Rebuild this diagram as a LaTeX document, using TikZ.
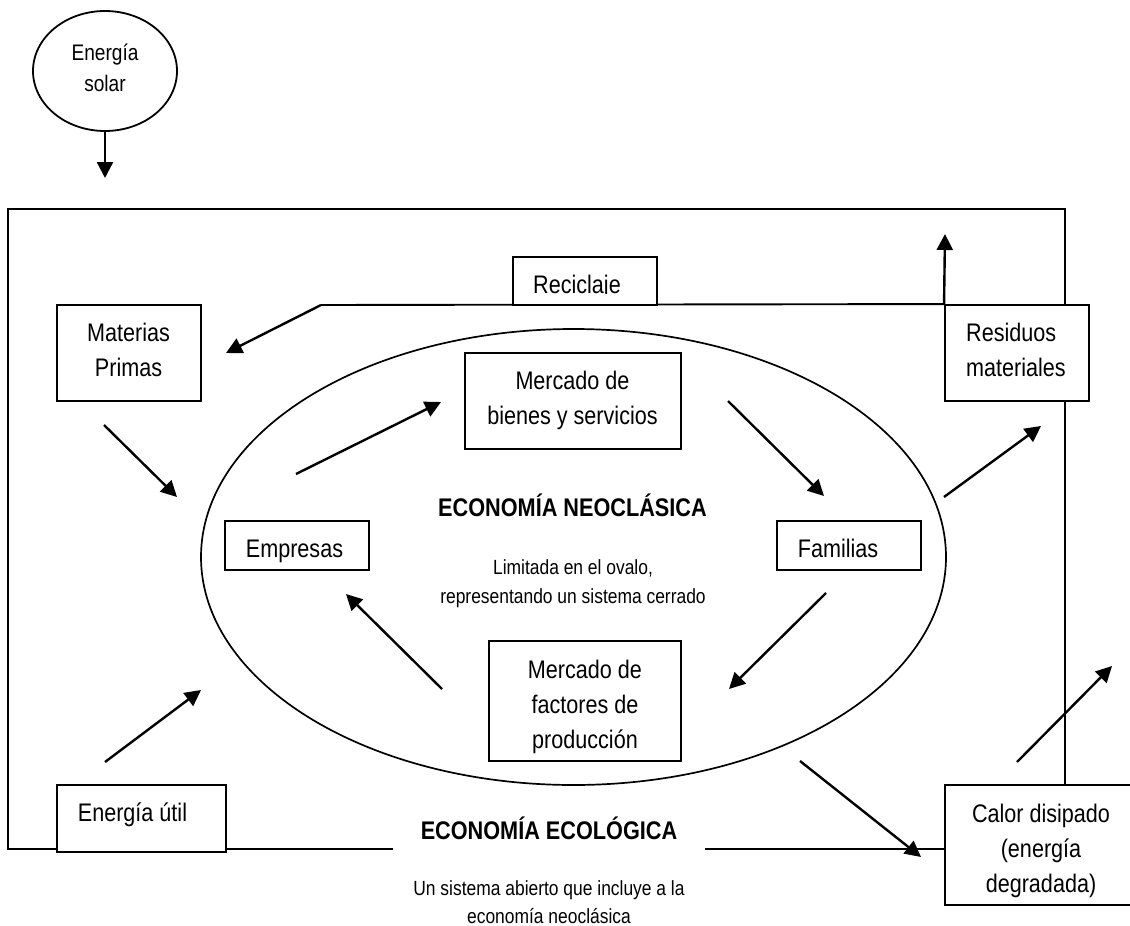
\documentclass[tikz,border=0pt]{standalone}
\usepackage{fontspec}
\setmainfont{Liberation Sans}[FakeStretch=0.85]
\usetikzlibrary{arrows.meta,shapes.geometric}
\begin{document}
\begin{tikzpicture}[x=1pt,y=-1pt,
  box/.style={draw, line width=1.9pt, fill=white, inner sep=0pt},
  txt/.style={inner sep=0pt, align=center, font=\fontsize{25.4}{35}\selectfont},
  one/.style={text height=18.2pt, text depth=0pt},
  small/.style={inner sep=0pt, align=center, font=\fontsize{20.5}{28.5}\selectfont},
  big/.style={inner sep=0pt, align=center, text height=18.3pt, text depth=0pt, font=\fontsize{25.5}{35}\selectfont\bfseries},
  arr/.style={line width=2.4pt, -{Triangle[length=16pt,width=16pt]}},
  frame/.style={line width=1.9pt}]
\useasboundingbox (0,0) rectangle (1130,926);

% coordinates of the outer frame and free connector ends
\coordinate (tl) at (8,209);
\coordinate (tr) at (1065,209);
\coordinate (bl) at (8,849);
\coordinate (gl) at (393,849);
\coordinate (gr) at (705,849);
\coordinate (rc1) at (321,305);
\coordinate (rc2) at (226,353);
\coordinate (solend) at (105,178);
\coordinate (upend) at (945,234);
\coordinate (mp1) at (104,425);  \coordinate (mp2) at (177,497);
\coordinate (eu1) at (105,762);  \coordinate (eu2) at (201,690);
\coordinate (e1) at (296,474);   \coordinate (e2) at (441,402);
\coordinate (b1) at (728,401);   \coordinate (b2) at (824,496);
\coordinate (f1) at (826,593);   \coordinate (f2) at (729,689);
\coordinate (m1) at (442,689);   \coordinate (m2) at (346,594);
\coordinate (r1) at (944,497);   \coordinate (r2) at (1041,426);
\coordinate (c1) at (800,761);   \coordinate (c2) at (921,857);
\coordinate (d1) at (1017,762);  \coordinate (d2) at (1112,666);

% Energia solar
\node[draw, ellipse, line width=1.8pt, inner sep=0pt, minimum width=144pt, minimum height=120pt] (sol) at (105,71) {};
\node[inner sep=0pt, align=center, font=\fontsize{22.5}{31}\selectfont] (solt) at (105,67.5) {Energía\\solar};
\draw[arr] (sol.south) -- (solend);

% the oval of the neoclassical economy
\node[draw, ellipse, line width=1.7pt, inner sep=0pt, minimum width=745pt, minimum height=456pt] (neo) at (573.5,557) {};

% boxes
\node[box, minimum width=144pt, minimum height=96pt] (mp) at (129,353) {};
\node[box, minimum width=144pt, minimum height=96pt] (res) at (1017,353) {};
\node[box, minimum width=169pt, minimum height=67pt] (eu) at (141.5,818.5) {};
\node[box, minimum width=192pt, minimum height=120pt] (cal) at (1041,845) {};

% outer frame (economia ecologica)
\draw[frame] (res.north -| tr) -- (tr) -- (tl) -- (bl) -- (eu.west |- bl);
\draw[frame] (eu.east |- bl) -- (gl);
\draw[frame] (gr) -- (gr -| cal.west);
\draw[frame] (res.south -| tr) -- (cal.north -| tr);
\draw[frame] (rc1) -- (res.north west);

% redraw boxes over the frame lines
\node[box, minimum width=144pt, minimum height=96pt] at (1017,353) {};
\node[box, minimum width=169pt, minimum height=67pt] at (141.5,818.5) {};
\node[box, minimum width=192pt, minimum height=120pt] at (1041,845) {};
\node[box, minimum width=144pt, minimum height=48pt] (rec) at (585,281) {};
\node[box, minimum width=216pt, minimum height=96pt] (mbs) at (573,401) {};
\node[box, minimum width=144pt, minimum height=49pt] (emp) at (297,545.5) {};
\node[box, minimum width=144pt, minimum height=49pt] (fam) at (849,545.5) {};
\node[box, minimum width=192pt, minimum height=120pt] (mfp) at (585,701) {};

% texts
\node[txt] (mpt) at (128.5,350) {Materias\\Primas};
\begin{scope}
  \clip (513,257) rectangle (657,293.5);
  \node[txt, one] (rect) at (577,284) {Reciclaje};
\end{scope}
\node[txt] (mbst) at (572.5,400) {Mercado de\\bienes y servicios};
\node[txt, align=left, anchor=west] (rest) at (966,349.5) {Residuos\\materiales};
\node[txt, one] (empt) at (294.5,548) {Empresas};
\node[txt, one] (famt) at (838,548) {Familias};
\node[big] (neot) at (572.5,507) {ECONOMÍA NEOCLÁSICA};
\node[small] (limt) at (573,583.5) {Limitada en el ovalo,\\representando un sistema cerrado};
\node[txt] (mfpt) at (585,706.5) {Mercado de\\factores de\\producción};
\node[txt, one] (eut) at (132.5,812) {Energía útil};
\node[big] (ecot) at (549,830) {ECONOMÍA ECOLÓGICA};
\node[small] (unt) at (549,902) {Un sistema abierto que incluye a la\\economía neoclásica};
\node[txt] (calt) at (1041,850.5) {Calor disipado\\(energía\\degradada)};

% arrows
\draw[arr] (rc1) -- (rc2);
\draw[arr] (res.north west) -- (upend);
\draw[arr] (mp1) -- (mp2);
\draw[arr] (eu1) -- (eu2);
\draw[arr] (e1) -- (e2);
\draw[arr] (b1) -- (b2);
\draw[arr] (f1) -- (f2);
\draw[arr] (m1) -- (m2);
\draw[arr] (r1) -- (r2);
\draw[arr] (c1) -- (c2);
\draw[arr] (d1) -- (d2);
\end{tikzpicture}
\end{document}
